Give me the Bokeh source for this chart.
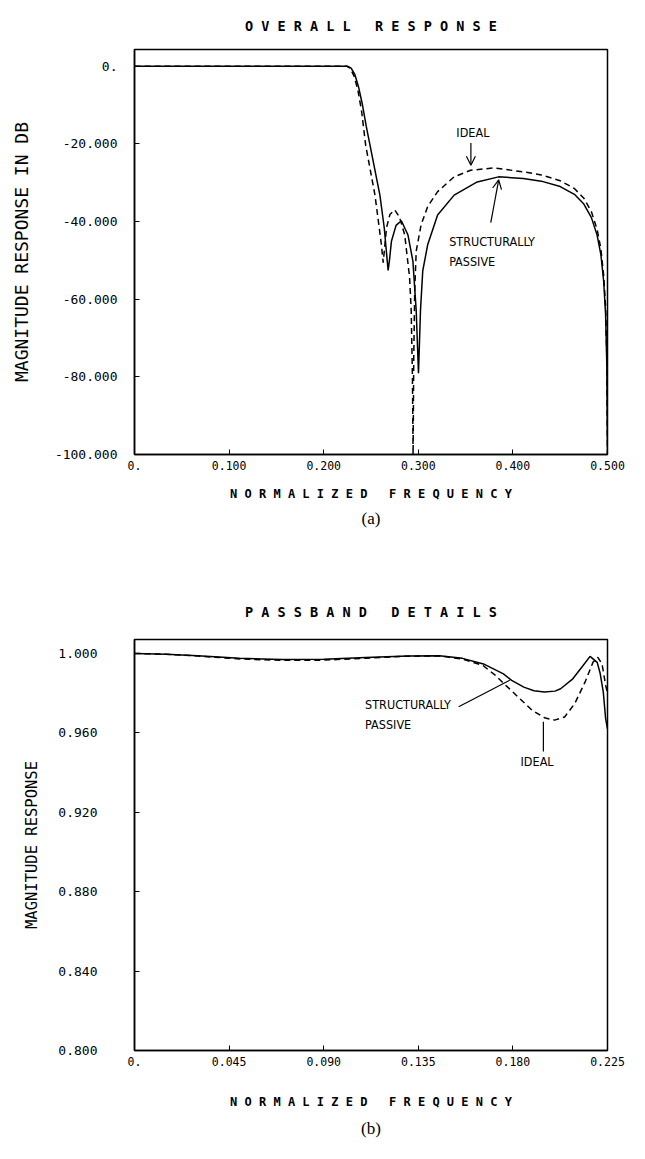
from bokeh.plotting import figure
from bokeh.layouts import column
from bokeh.models import FixedTicker, Range1d, Label, Arrow, OpenHead, Title
from bokeh.embed import file_html
from bokeh.resources import INLINE

# ---------------- data: overall response (dB) ----------------
oa_freq_ideal = [0, 0.224, 0.228, 0.232, 0.236, 0.240, 0.2444, 0.2542, 0.2587, 0.261,
                 0.2629, 0.2645, 0.2664, 0.2700, 0.2751, 0.2800, 0.2856, 0.2908, 0.2925,
                 0.2938, 0.2945, 0.2952, 0.2962, 0.2978, 0.303, 0.310, 0.3204, 0.3379,
                 0.3553, 0.3797, 0.411, 0.43, 0.45, 0.465, 0.475, 0.483, 0.489, 0.493,
                 0.496, 0.498, 0.4993, 0.5]
oa_db_ideal = [0, 0, -0.5, -2.5, -6, -11.5, -20.4, -33.2, -41.6, -46,
               -50.6, -46.5, -41.6, -38.2, -37.0, -38.8, -43.4, -54.4, -63,
               -80, -100, -75, -58, -47.6, -40.8, -36.1, -32.3, -28.5,
               -26.8, -26.2, -27.2, -28, -29.5, -31.5, -34, -37.5, -42, -47,
               -54, -62, -75, -100]

oa_freq_passive = [0, 0.225, 0.229, 0.233, 0.237, 0.241, 0.245, 0.249, 0.2594, 0.264,
                   0.266, 0.2681, 0.2695, 0.2716, 0.2765, 0.2821, 0.289, 0.2943, 0.2978,
                   0.3002, 0.3023, 0.3047, 0.31, 0.3204, 0.3379, 0.3623, 0.3849, 0.411,
                   0.43, 0.45, 0.465, 0.475, 0.483, 0.489, 0.493, 0.496, 0.498, 0.4993, 0.5]
oa_db_passive = [0, 0, -0.5, -2.2, -5.5, -10, -15.5, -20.4, -33.2, -41.6,
                 -47, -52.6, -50, -45.1, -41, -39.8, -43.4, -50.2, -63,
                 -79.1, -63, -52.7, -45.9, -38.3, -33.2, -29.8, -28.5, -28.9,
                 -29.6, -31, -33, -35.5, -39, -43.5, -48.5, -55.5, -64, -77, -100]

oa_xticks = [0, 0.1, 0.2, 0.3, 0.4, 0.5]
oa_xlabels = ["0.", "0.100", "0.200", "0.300", "0.400", "0.500"]
oa_yticks = [-100, -80, -60, -40, -20, 0]
oa_ylabels = ["-100.000", "-80.000", "-60.000", "-40.000", "-20.000", "0."]

# ---------------- data: passband details (linear) ----------------
pb_freq_passive = [0, 0.015, 0.03, 0.05, 0.07, 0.09, 0.11, 0.13, 0.145, 0.156, 0.166,
                   0.1755, 0.1794, 0.1852, 0.19, 0.195, 0.2, 0.2027, 0.2085, 0.2134,
                   0.2167, 0.2201, 0.2215, 0.223, 0.2241, 0.225]
pb_mag_passive = [1.0, 0.9996, 0.9988, 0.9975, 0.9969, 0.9971, 0.9979, 0.9987, 0.9988,
                  0.9975, 0.9947, 0.9897, 0.9864, 0.9830, 0.9812, 0.9805, 0.9810, 0.9822,
                  0.9872, 0.9939, 0.9985, 0.9955, 0.9900, 0.9805, 0.9672, 0.9620]

pb_freq_ideal = [0, 0.015, 0.03, 0.05, 0.07, 0.09, 0.11, 0.13, 0.145, 0.156, 0.1658,
                 0.1717, 0.1775, 0.1833, 0.1891, 0.195, 0.1998, 0.2046, 0.2094, 0.2143,
                 0.2181, 0.2204, 0.2224, 0.2241, 0.225]
pb_mag_ideal = [1.0, 0.9996, 0.9987, 0.9972, 0.9965, 0.9966, 0.9976, 0.9986, 0.9987,
                0.9972, 0.9939, 0.9889, 0.9830, 0.9772, 0.9714, 0.9676, 0.9664, 0.9680,
                0.9747, 0.9855, 0.9955, 0.9980, 0.9947, 0.9840, 0.9800]

pb_xticks = [0, 0.045, 0.09, 0.135, 0.18, 0.225]
pb_xlabels = ["0.", "0.045", "0.090", "0.135", "0.180", "0.225"]
pb_yticks = [0.8, 0.84, 0.88, 0.92, 0.96, 1.0]
pb_ylabels = ["0.800", "0.840", "0.880", "0.920", "0.960", "1.000"]

MONO = "DejaVu Sans Mono"
COND = "DejaVu Sans Condensed, Liberation Sans, sans-serif"
SERIF = "Liberation Serif"
NB = "\u00a0"
XLABEL = "N O R M A L I Z E D " + NB + " F R E Q U E N C Y"
ANN_SIZE = "12.5px"


def style(p, xt, xl, yt, yl, ylabel, ylabel_size, y_standoff, ylabel_standoff,
          xlabel_standoff):
    p.outline_line_color = "black"
    p.outline_line_width = 1.5
    p.xgrid.visible = False
    p.ygrid.visible = False
    p.title.text_color = "black"
    for ax in (p.xaxis[0], p.yaxis[0]):
        ax.axis_line_color = "black"
        ax.axis_line_width = 1.5
        ax.major_tick_in = 5
        ax.major_tick_out = 0
        ax.minor_tick_in = 0
        ax.minor_tick_out = 0
        ax.major_tick_line_color = "black"
        ax.major_label_text_font = MONO
        ax.major_label_text_color = "black"
        ax.axis_label_text_color = "black"
        ax.axis_label_text_font = MONO
    xa = p.xaxis[0]
    xa.ticker = FixedTicker(ticks=xt)
    xa.major_label_overrides = {t: s for t, s in zip(xt, xl)}
    xa.major_label_text_font_size = "11.5px"
    xa.major_label_standoff = 6
    xa.axis_label = XLABEL
    xa.axis_label_text_font_size = "12px"
    xa.axis_label_text_font_style = "bold"
    xa.axis_label_standoff = xlabel_standoff
    ya = p.yaxis[0]
    ya.ticker = FixedTicker(ticks=yt)
    ya.major_label_overrides = {t: s for t, s in zip(yt, yl)}
    ya.major_label_text_font_size = "13px"
    ya.major_label_standoff = y_standoff
    ya.axis_label = ylabel
    ya.axis_label_text_font_size = ylabel_size
    ya.axis_label_text_font_style = "normal"
    ya.axis_label_standoff = ylabel_standoff


def ann(p, x, y, text, align="left", baseline="middle"):
    p.add_layout(Label(x=x, y=y, text=text, text_font=COND, text_font_size=ANN_SIZE,
                       text_color="black", text_align=align, text_baseline=baseline))


# ---------------- figure (a) ----------------
p1 = figure(width=629, height=552, x_range=Range1d(0, 0.5), y_range=Range1d(-100, 4.3),
            output_backend="svg", toolbar_location=None,
            min_border_left=129, min_border_right=22, min_border_top=45,
            min_border_bottom=98)
p1.title.text = "O V E R A L L " + NB + " R E S P O N S E"
p1.title.align = "center"
p1.title.text_font = MONO
p1.title.text_font_size = "13.5px"
p1.title.text_font_style = "bold"
p1.title.standoff = 31
style(p1, oa_xticks, oa_xlabels, oa_yticks, oa_ylabels, "MAGNITUDE RESPONSE IN DB",
      "18px", 17, 20, 14)
p1.line(oa_freq_passive, oa_db_passive, line_color="black", line_width=1.5)
p1.line(oa_freq_ideal, oa_db_ideal, line_color="black", line_width=1.5, line_dash="6 4")

ann(p1, 0.3577, -19.0, "IDEAL", align="center", baseline="bottom")
p1.add_layout(Arrow(end=OpenHead(size=9, line_width=1.2), x_start=0.3556, y_start=-19.8,
                    x_end=0.3556, y_end=-25.5, line_width=1.2))
ann(p1, 0.3326, -45.2, "STRUCTURALLY")
ann(p1, 0.3326, -50.3, "PASSIVE")
p1.add_layout(Arrow(end=OpenHead(size=9, line_width=1.2), x_start=0.3766, y_start=-40.3,
                    x_end=0.385, y_end=-29.3, line_width=1.2))
p1.add_layout(Title(text="(a)", align="center", text_font=SERIF, text_font_size="17px",
                    text_font_style="normal", text_color="black", standoff=6), "below")

# ---------------- figure (b) ----------------
p2 = figure(width=629, height=591, x_range=Range1d(0, 0.225), y_range=Range1d(0.8, 1.007),
            output_backend="svg", toolbar_location=None,
            min_border_left=134, min_border_right=15, min_border_top=87,
            min_border_bottom=89)
p2.title.text = "P A S S B A N D " + NB + " D E T A I L S"
p2.title.align = "center"
p2.title.text_font = MONO
p2.title.text_font_size = "13.5px"
p2.title.text_font_style = "bold"
p2.title.standoff = 40
style(p2, pb_xticks, pb_xlabels, pb_yticks, pb_ylabels, "MAGNITUDE RESPONSE",
      "15.5px", 37, 14, 26)
p2.line(pb_freq_passive, pb_mag_passive, line_color="black", line_width=1.5)
p2.line(pb_freq_ideal, pb_mag_ideal, line_color="black", line_width=1.5, line_dash="6 4")

ann(p2, 0.1097, 0.9741, "STRUCTURALLY")
ann(p2, 0.1097, 0.9641, "PASSIVE")
p2.add_layout(Arrow(end=None, x_start=0.1542, y_start=0.9731, x_end=0.1785, y_end=0.9865,
                    line_width=1.2))
ann(p2, 0.1915, 0.9456, "IDEAL", align="center")
p2.add_layout(Arrow(end=None, x_start=0.1945, y_start=0.9656, x_end=0.1945, y_end=0.9506,
                    line_width=1.2))
p2.add_layout(Title(text="(b)", align="center", text_font=SERIF, text_font_size="17px",
                    text_font_style="normal", text_color="black", standoff=11), "below")

layout = column(p1, p2, spacing=0)
open("out.html", "w").write(file_html(layout, INLINE))
